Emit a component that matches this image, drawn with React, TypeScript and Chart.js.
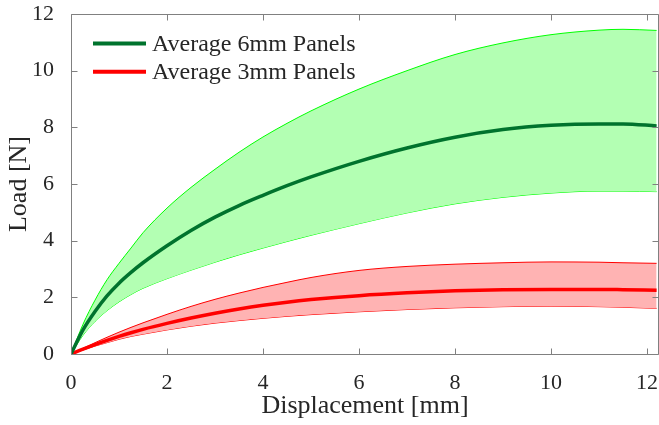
import React, { useEffect, useRef } from "react";
import { Chart, registerables } from "chart.js";

Chart.register(...registerables);

const displacement = [0, 0.25, 0.5, 0.75, 1, 1.25, 1.5, 2, 2.5, 3, 3.5, 4, 4.5, 5, 6, 7, 8, 9, 10, 11, 11.5, 12.2];

const mean6 = [0, 0.85, 1.5, 2.05, 2.5, 2.88, 3.22, 3.82, 4.36, 4.83, 5.24, 5.6, 5.94, 6.25, 6.8, 7.27, 7.65, 7.92, 8.07, 8.12, 8.12, 8.05];
const upper6 = [0, 1.05, 1.9, 2.62, 3.2, 3.74, 4.28, 5.15, 5.88, 6.52, 7.12, 7.66, 8.14, 8.58, 9.35, 10.0, 10.57, 10.98, 11.27, 11.43, 11.46, 11.42];
const lower6 = [0, 0.66, 1.15, 1.53, 1.84, 2.1, 2.32, 2.66, 2.96, 3.24, 3.5, 3.74, 3.97, 4.19, 4.6, 4.98, 5.3, 5.53, 5.68, 5.75, 5.75, 5.73];

const mean3 = [0, 0.17, 0.33, 0.48, 0.62, 0.75, 0.87, 1.08, 1.27, 1.44, 1.59, 1.72, 1.83, 1.92, 2.06, 2.16, 2.23, 2.27, 2.28, 2.28, 2.27, 2.25];
const upper3 = [0, 0.2, 0.4, 0.59, 0.77, 0.94, 1.1, 1.4, 1.68, 1.93, 2.15, 2.35, 2.53, 2.7, 2.95, 3.09, 3.17, 3.22, 3.25, 3.24, 3.22, 3.2];
const lower3 = [0, 0.14, 0.28, 0.4, 0.52, 0.62, 0.7, 0.85, 0.98, 1.09, 1.18, 1.26, 1.33, 1.39, 1.49, 1.57, 1.63, 1.67, 1.69, 1.67, 1.65, 1.61];

const seriesLabels = ["Average 6mm Panels", "Average 3mm Panels"];
const xTitle = "Displacement [mm]";
const yTitle = "Load [N]";

const FONT = '"Liberation Serif", "Times New Roman", serif';
const TEXT = "#262626";
const AXIS = "#808080";

const pts = (ys: number[]) => displacement.map((x, i) => ({ x, y: ys[i] }));

export default function App() {
  const ref = useRef<HTMLCanvasElement>(null);

  useEffect(() => {
    document.body.style.margin = "0";
    const canvas = ref.current;
    if (!canvas) return;

    const boxPlugin = {
      id: "boxTicks",
      afterDatasetsDraw(chart: any) {
        const { ctx, chartArea: a, scales } = chart;
        const xs = scales.x;
        const ys = scales.y;
        ctx.save();
        ctx.strokeStyle = AXIS;
        ctx.lineWidth = 1;
        ctx.beginPath();
        const L = Math.round(a.left) + 0.5;
        const R = Math.round(a.right) - 0.5;
        const T = Math.round(a.top) + 0.5;
        const B = Math.round(a.bottom) + 0.5;
        ctx.moveTo(L, T);
        ctx.lineTo(R, T);
        ctx.lineTo(R, B);
        ctx.lineTo(L, B);
        ctx.closePath();
        const tl = 6;
        xs.ticks.forEach((t: any) => {
          const px = Math.round(xs.getPixelForValue(t.value)) + 0.5;
          ctx.moveTo(px, B);
          ctx.lineTo(px, B - tl);
          ctx.moveTo(px, T);
          ctx.lineTo(px, T + tl);
        });
        ys.ticks.forEach((t: any) => {
          const py = Math.round(ys.getPixelForValue(t.value)) + 0.5;
          ctx.moveTo(L, py);
          ctx.lineTo(L + tl, py);
          ctx.moveTo(R, py);
          ctx.lineTo(R - tl, py);
        });
        ctx.stroke();
        ctx.restore();
      },
      afterDraw(chart: any) {
        const { ctx, chartArea: a } = chart;
        const items = [chart.data.datasets[0], chart.data.datasets[1]];
        ctx.save();
        items.forEach((ds: any, i: number) => {
          const y = a.top + 29.5 + i * 28.3;
          ctx.strokeStyle = ds.borderColor;
          ctx.lineWidth = 4;
          ctx.beginPath();
          ctx.moveTo(a.left + 22, y);
          ctx.lineTo(a.left + 75, y);
          ctx.stroke();
          ctx.fillStyle = TEXT;
          ctx.font = `24px ${FONT}`;
          ctx.textBaseline = "middle";
          ctx.fillText(ds.label, a.left + 81, y + 1);
        });
        ctx.restore();
      },
    };

    const common = { pointRadius: 0, cubicInterpolationMode: "monotone" };

    const chart = new Chart(canvas, {
      type: "line",
      data: {
        datasets: [
          { ...common, label: seriesLabels[0], data: pts(mean6), borderColor: "rgb(0,115,45)", borderWidth: 3.5, fill: false, order: 0 },
          { ...common, label: seriesLabels[1], data: pts(mean3), borderColor: "#ff0000", borderWidth: 3.5, fill: false, order: 1 },
          { ...common, label: "upper6", data: pts(upper6), borderColor: "#00ff00", borderWidth: 1, backgroundColor: "#b3ffb3", fill: 3, order: 2 },
          { ...common, label: "lower6", data: pts(lower6), borderColor: "#00ff00", borderWidth: 1, fill: false, order: 2 },
          { ...common, label: "upper3", data: pts(upper3), borderColor: "#ff0000", borderWidth: 1, backgroundColor: "#ffb3b3", fill: 5, order: 3 },
          { ...common, label: "lower3", data: pts(lower3), borderColor: "#ff0000", borderWidth: 1, fill: false, order: 3 },
        ],
      },
      options: {
        responsive: false,
        animation: false,
        devicePixelRatio: 1,
        layout: { padding: { left: 0, right: 0, top: 14, bottom: 0 } },
        plugins: {
          legend: { display: false },
          tooltip: { enabled: false },
        },
        scales: {
          x: {
            type: "linear",
            min: 0,
            max: 12.25,
            ticks: {
              stepSize: 2,
              includeBounds: false,
              color: TEXT,
              font: { family: FONT, size: 22 },
              padding: 8,
              maxRotation: 0,
            },
            grid: { display: false },
            border: { display: false },
            title: {
              display: true,
              text: xTitle,
              color: TEXT,
              font: { family: FONT, size: 26 },
              padding: { top: 0, bottom: 3 },
            },
            afterFit: (s: any) => {
              s.height = 71;
              s.paddingLeft = 0;
              s.paddingRight = 0;
            },
          },
          y: {
            type: "linear",
            min: 0,
            max: 12,
            ticks: {
              stepSize: 2,
              color: TEXT,
              font: { family: FONT, size: 22 },
              padding: 9,
            },
            grid: { display: false },
            border: { display: false },
            title: {
              display: true,
              text: yTitle,
              color: TEXT,
              font: { family: FONT, size: 26 },
              padding: { top: 4, bottom: 0 },
            },
            afterFit: (s: any) => {
              s.width = 71;
              s.paddingTop = 0;
              s.paddingBottom = 0;
            },
          },
        },
      },
      plugins: [boxPlugin],
    } as any);

    return () => chart.destroy();
  }, []);

  return (
    <div style={{ width: 659, height: 425 }}>
      <canvas ref={ref} width={659} height={425} style={{ display: "block" }} />
    </div>
  );
}
